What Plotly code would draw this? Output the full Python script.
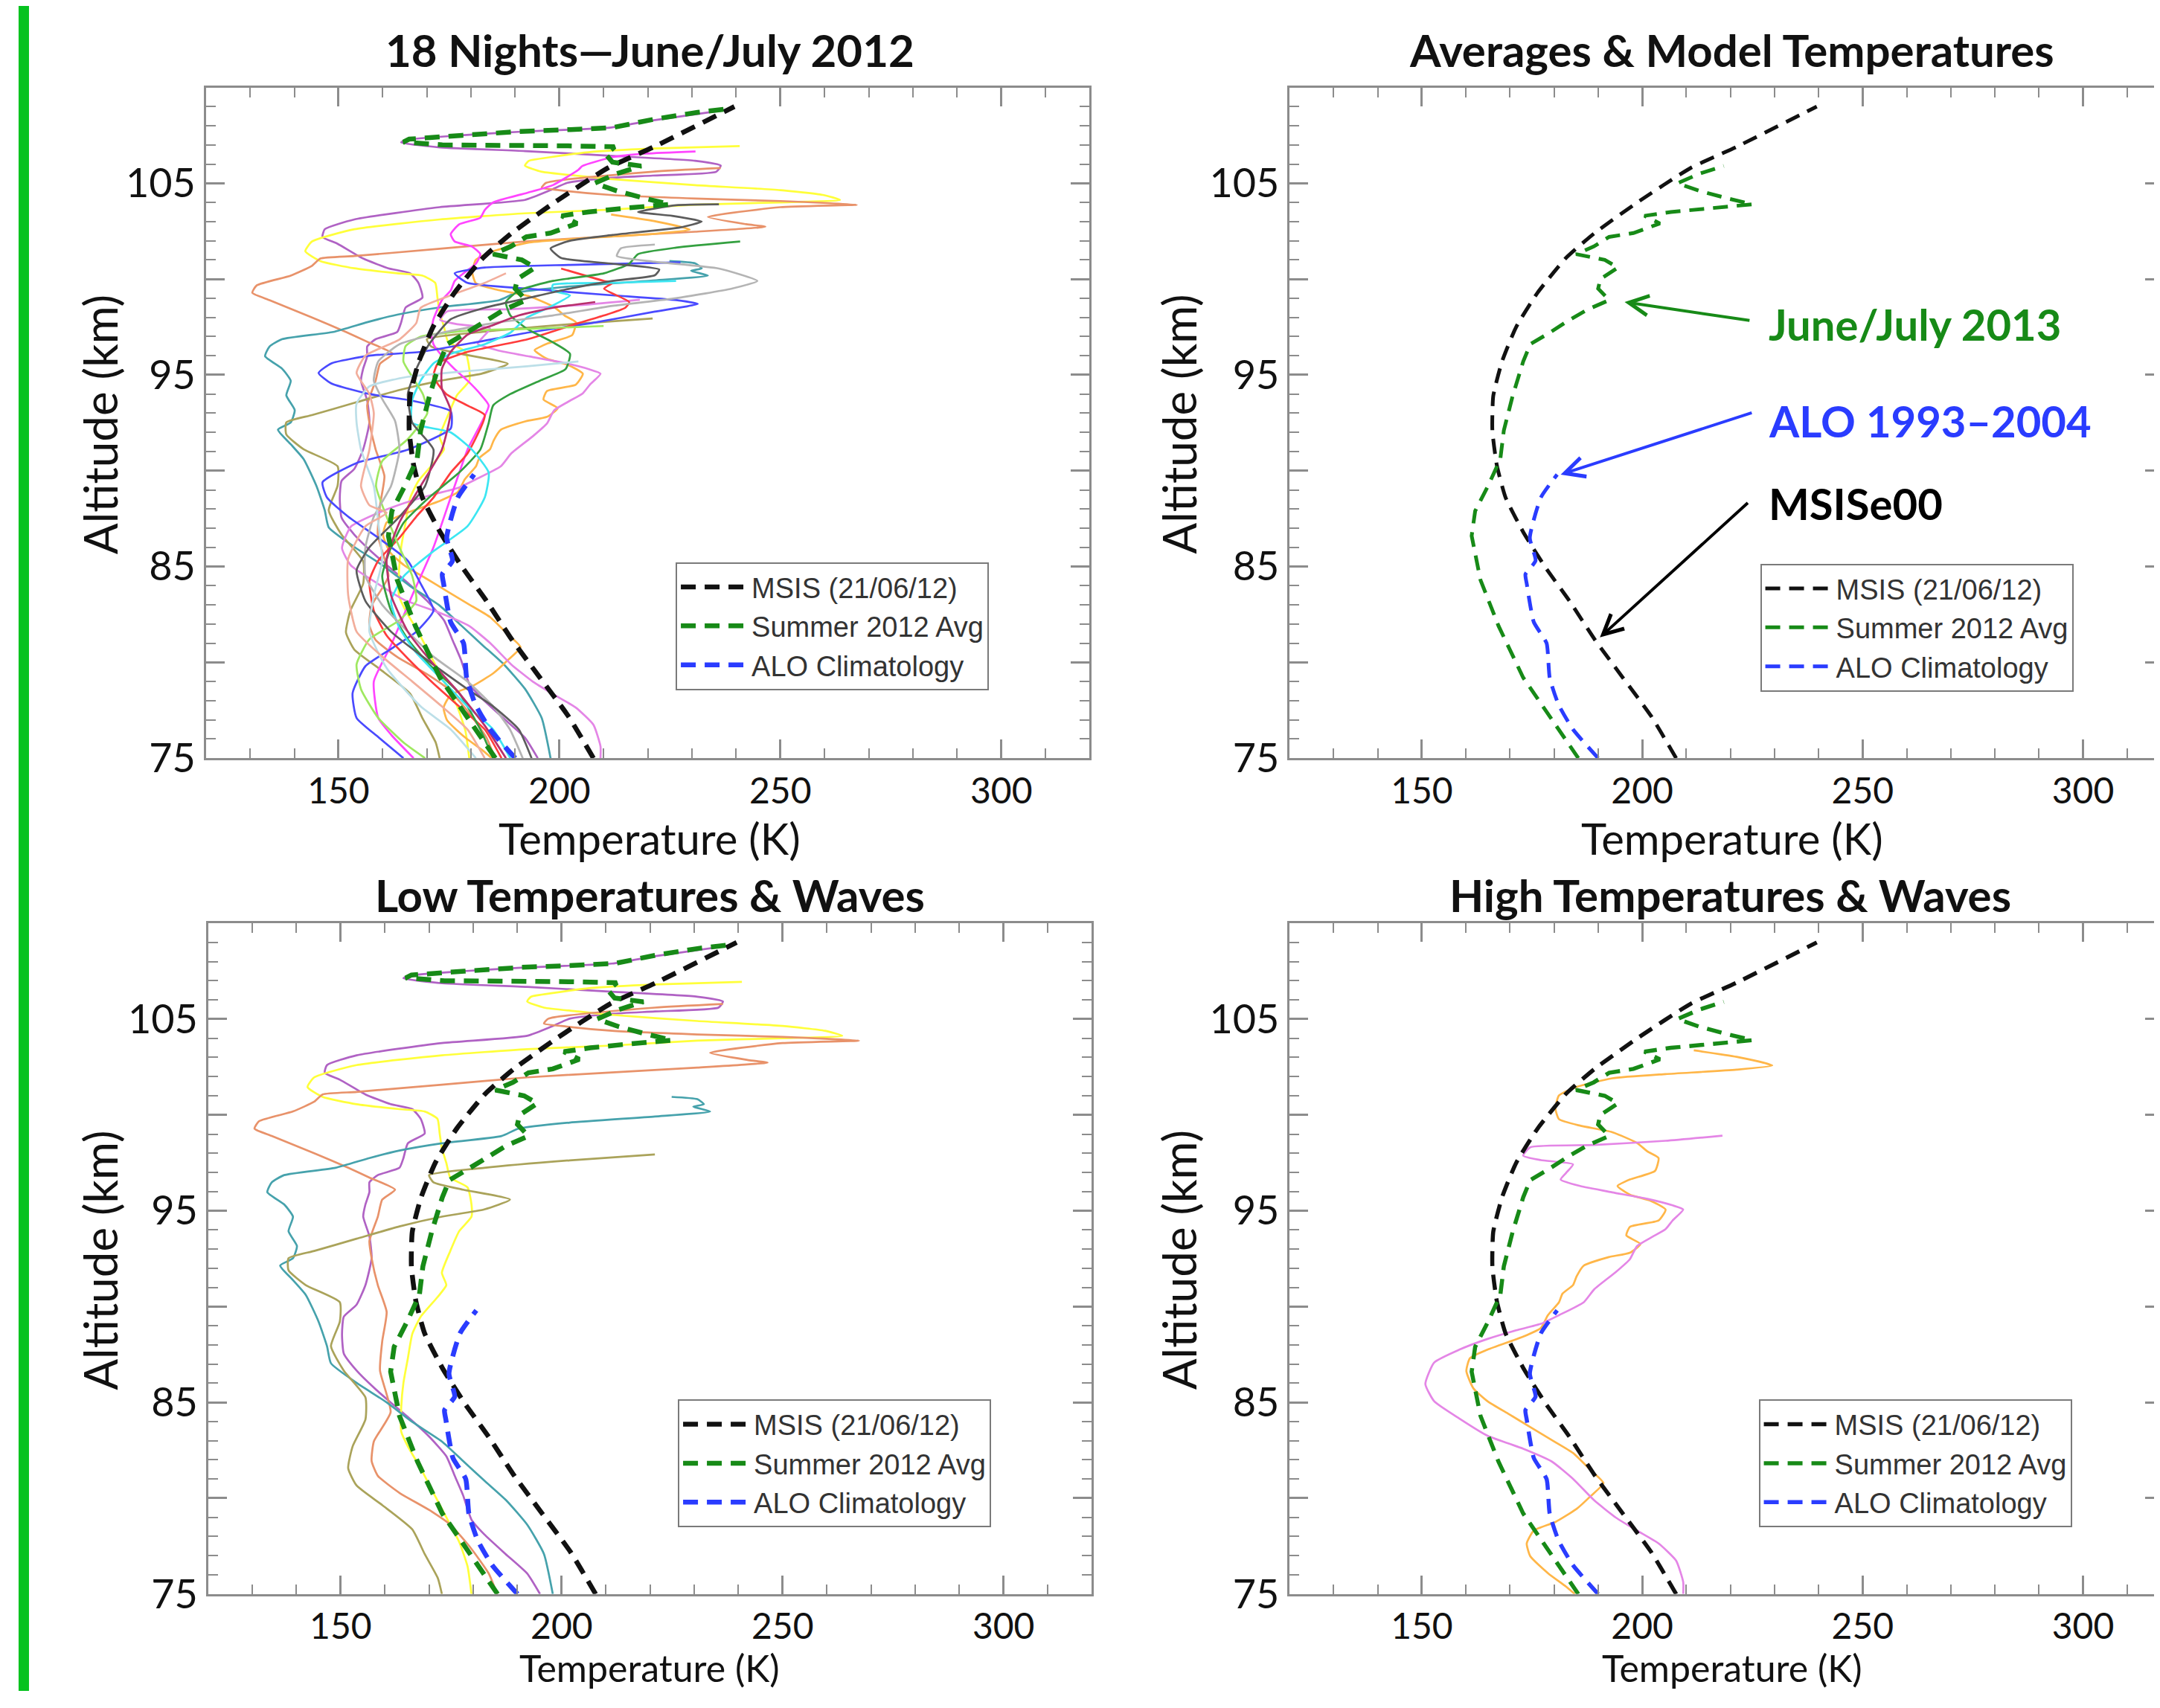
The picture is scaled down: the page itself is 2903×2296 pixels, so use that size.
import plotly.graph_objects as go

W, H = 2903, 2296

# ---------------- data: (Temperature K, Altitude km) along each profile ----------------
msis = [(207.7,75.0),(202.0,77.2),(195.6,79.2),(189.2,81.2),(183.5,83.2),(177.9,85.0),(173.0,86.8),
        (169.0,88.6),(167.0,90.3),(166.0,92.1),(166.2,93.9),(168.2,95.7),(171.4,97.5),(176.3,99.3),
        (182.7,101.1),(189.2,102.4),(198.9,104.0),(211.0,105.8),(221.4,106.9),(239.6,109.0)]

avg_lower = [(185.5,75.0),(179.5,77.0),(173.0,79.2),(167.4,81.9),(163.3,84.3),(161.3,86.6),(162.1,87.9),
             (165.0,89.2),(167.8,90.6),(168.6,92.1),(170.6,93.9),(173.0,95.7),(174.6,96.6),(179.0,97.2),
             (183.0,97.8),(187.5,98.4),(192.5,98.9),(190.0,99.5),(190.5,100.0),(194.5,100.6),(191.5,101.0),
             (185.0,101.3),(189.0,101.7),(192.5,102.2),(198.0,102.4),(204.0,102.9),(200.5,103.3),
             (206.5,103.5),(215.0,103.7),(225.0,103.9),(219.5,104.2),(213.0,104.6),(208.0,105.0),
             (213.0,105.5),(218.5,105.9)]
avg_upper = [(212.0,106.1),(210.5,106.5),(212.5,106.9),(202.0,106.95),(187.0,106.95),(173.5,107.0),
             (164.7,107.15),(166.0,107.3),(178.0,107.5),(191.0,107.7),(202.5,107.8),(212.0,107.9),
             (221.6,108.35),(231.3,108.7),(239.0,108.9)]

alo = [(190.0,75.0),(184.3,76.5),(181.0,77.8),(179.0,79.2),(178.3,81.0),(175.4,82.1),(173.8,84.1),
       (173.5,84.6),(175.8,85.3),(174.5,86.5),(177.0,88.6),(180.7,89.8)]

# nights shown in "Low Temperatures & Waves"
night_purple = [(238.4,108.85),(221.1,108.28),(211.4,107.9),(192.2,107.7),(177.7,107.5),(165.2,107.26),
    (164.2,107.13),(172.9,106.87),(192.2,106.68),(211.4,106.43),(230.7,106.17),(236.5,105.92),(235.5,105.6),
    (221.1,105.4),(211.4,105.28),(201.8,105.02),(198.0,104.64),(192.2,104.13),(172.9,103.75),(153.6,103.11),
    (146.9,102.6),(146.4,102.2),(149.8,101.84),(155.6,101.07),(161.3,100.56),(166.2,100.3),(168.1,99.8),
    (169.0,99.03),(165.2,98.52),(164.2,97.75),(163.3,97.24),(158.4,96.86),(156.5,96.48),(156.5,95.97),
    (155.6,95.33),(155.1,94.69),(156.5,93.67),(157.0,92.52),(155.6,91.12),(153.6,90.1),(150.7,89.47),
    (150.3,88.57),(150.7,87.55),(153.6,86.66),(157.5,85.77),(161.3,85.0),(165.2,84.24),(170.0,83.22),
    (173.9,82.19),(175.8,81.17),(177.7,80.15),(179.6,78.88),(182.5,78.11),(187.3,77.09),(192.2,76.07),(195.1,75.0)]
night_yellow = [(240.8,106.94),(221.1,106.81),(206.6,106.62),(198.0,106.36),(193.1,106.17),(192.2,105.92),
    (196.0,105.6),(203.7,105.4),(211.4,105.22),(230.7,104.9),(250.0,104.64),(259.6,104.39),(263.5,104.13),
    (250.0,104.0),(230.7,103.88),(211.4,103.62),(192.2,103.43),(172.9,103.11),(153.6,102.6),(144.0,101.96),
    (142.5,101.45),(145.9,100.94),(153.6,100.56),(163.3,100.3),(169.0,100.18),(171.9,99.8),(172.4,99.03),
    (172.9,98.26),(173.9,97.5),(174.8,96.73),(178.7,96.22),(179.6,95.33),(179.6,94.69),(176.8,93.93),
    (174.8,92.9),(172.9,91.76),(173.9,91.12),(171.9,90.49),(168.1,89.47),(166.2,88.57),(165.2,87.3),
    (164.2,86.02),(163.7,84.75),(163.7,83.47),(165.2,82.7),(168.1,81.56),(171.0,80.28),(173.9,79.0),
    (176.8,77.73),(178.7,76.45),(179.6,75.0)]
night_sienna = [(236.5,105.79),(221.1,105.6),(197.0,105.02),(196.0,104.77),(199.9,104.64),(211.4,104.39),
    (230.7,104.2),(250.0,104.07),(267.3,103.88),(250.0,103.75),(233.6,103.24),(242.3,102.86),(246.6,102.73),
    (230.7,102.47),(211.4,102.22),(192.2,101.96),(172.9,101.58),(153.6,101.2),(145.9,101.07),(144.0,100.69),
    (139.2,100.18),(131.5,99.67),(130.5,99.28),(134.4,98.9),(144.0,98.0),(151.7,97.24),(156.5,96.73),
    (162.3,96.1),(159.4,95.58),(158.4,94.69),(156.5,93.42),(157.0,92.52),(158.4,91.12),(160.4,89.72),
    (159.4,88.19),(158.9,86.66),(161.3,84.49),(157.5,82.96),(157.0,81.94),(158.4,81.17),(163.3,80.28),
    (170.0,79.39),(174.8,78.62),(179.6,77.35),(183.5,76.07),(185.4,75.0)]
night_teal = [(224.9,100.94),(230.7,100.82),(232.2,100.56),(229.8,100.43),(233.6,100.18),(221.1,99.92),
    (201.8,99.6),(190.2,99.28),(186.4,98.9),(172.9,98.52),(163.3,98.14),(156.5,97.75),(148.8,97.24),
    (137.2,96.86),(134.4,96.48),(133.4,95.97),(137.2,95.33),(139.2,94.69),(138.2,93.93),(140.1,93.16),
    (139.2,92.52),(136.3,92.14),(139.2,91.38),(142.1,90.61),(145.0,89.21),(146.9,87.93),(147.8,87.04),
    (153.6,86.02),(160.4,85.0),(166.2,83.98),(172.9,82.96),(177.7,81.94),(182.5,80.92),(187.4,79.9),
    (192.2,78.62),(196.0,77.09),(198.0,75.0)]
night_olive = [(221.1,97.94),(201.8,97.63),(182.5,97.24),(170.0,96.86),(171.0,96.48),(177.7,96.1),
    (188.3,95.58),(182.5,95.07),(172.9,94.69),(163.3,94.18),(153.6,93.54),(144.0,92.9),(138.2,92.52),
    (138.2,91.89),(142.1,91.12),(149.8,90.23),(149.8,89.21),(147.8,87.93),(150.7,86.66),(155.6,85.26),
    (155.6,84.11),(152.7,82.7),(151.7,81.56),(153.6,80.66),(159.4,79.64),(166.2,78.37),(169.0,77.09),
    (172.0,75.82),(172.9,75.0)]

# nights shown in "High Temperatures & Waves"
night_orange = [(211.7,103.37),(221.4,103.03),(229.5,102.58),(221.4,102.36),(205.3,102.13),(193.2,101.91),
    (185.1,101.46),(181.1,101.01),(180.3,100.34),(181.1,99.78),(185.9,99.44),(193.2,99.1),(198.8,98.54),
    (201.2,98.09),(203.7,97.75),(202.9,97.08),(197.2,96.63),(194.4,96.29),(197.2,95.84),(202.0,95.51),
    (205.3,95.06),(203.7,94.49),(197.2,94.16),(196.4,93.71),(199.6,93.26),(197.2,92.81),(192.4,92.58),
    (186.7,92.13),(185.1,91.57),(184.3,91.12),(181.9,90.67),(181.1,90.22),(178.6,89.55),(177.0,88.88),
    (173.0,88.43),(164.9,87.75),(160.9,87.3),(160.1,86.63),(161.7,85.73),(164.9,85.06),(169.8,84.38),
    (174.6,83.71),(179.5,83.03),(184.3,82.36),(188.3,81.46),(191.2,80.79),(188.3,80.11),(185.1,79.44),
    (180.3,78.76),(175.4,78.31),(173.8,77.64),(174.6,76.97),(178.7,76.07),(182.7,75.39),(184.7,75.0)]
night_orchid = [(218.2,98.92),(205.3,98.65),(189.1,98.43),(174.6,98.31),(173.0,97.87),(177.0,97.64),
    (184.3,97.42),(182.7,96.97),(181.5,96.63),(185.9,96.29),(193.2,95.96),(201.2,95.62),(206.9,95.28),
    (209.3,95.06),(206.9,94.49),(205.3,94.04),(202.0,93.6),(198.8,93.15),(197.2,92.47),(194.0,91.8),
    (189.1,90.9),(186.7,90.22),(181.1,89.55),(177.0,89.1),(171.4,88.76),(164.9,88.31),(158.5,87.75),
    (152.8,87.08),(150.8,85.96),(152.8,85.06),(158.5,84.16),(164.9,83.26),(173.0,82.58),(179.5,81.91),
    (184.3,81.01),(189.1,79.89),(194.0,78.99),(198.8,78.31),(203.7,77.64),(207.7,76.74),(209.3,75.62),(209.3,75.0)]

# remaining nights (only in the "18 Nights" panel)
night_magenta = [(230.8,106.66),(219.7,106.55),(212.0,106.36),(205.2,105.9),(204.3,105.7),(198.5,104.9),
    (192.7,104.5),(185.0,104.0),(183.1,103.6),(182.1,103.2),(177.3,102.85),(175.4,102.34),(176.3,101.96),
    (180.2,101.7),(182.1,101.3),(181.1,100.8),(178.3,100.3),(176.3,99.9),(175.4,99.4),(173.4,98.9),
    (171.5,97.9),(171.0,97.2),(171.5,96.6),(173.4,96.0),(176.3,95.3),(179.2,94.7),(182.1,94.0),(184.0,93.4),
    (179.2,91.1),(175.4,88.6),(171.5,86.0),(166.7,83.5),(161.9,80.9),(158.0,79.0),(159.0,77.1),(162.0,76.2),(167.0,75.0)]
night_blue = [(227.4,100.87),(202.4,100.74),(183.1,100.6),(176.3,100.3),(179.2,99.8),(192.7,99.5),
    (212.0,99.15),(226.4,98.9),(231.3,98.7),(221.6,98.3),(207.2,97.7),(192.7,97.2),(181.1,96.7),(168.6,96.2),
    (157.0,96.0),(148.4,95.6),(145.5,95.1),(148.4,94.55),(157.0,94.0),(166.7,93.65),(175.4,93.1),(175.4,92.2),
    (165.7,91.1),(154.1,90.4),(146.4,89.4),(147.4,88.6),(152.2,87.6),(159.0,86.5),(165.7,85.3),(168.6,84.1),
    (171.5,82.7),(167.6,81.6),(161.9,80.7),(156.1,79.8),(153.2,78.4),(154.1,77.1),(159.0,76.1),(164.7,75.0)]
night_red = [(200.4,100.55),(210.1,99.9),(212.0,99.8),(210.1,99.5),(215.8,98.8),(214.9,98.5),(210.1,98.1),
    (204.3,97.7),(192.7,96.85),(179.2,96.2),(172.5,95.6),(171.5,94.9),(174.4,94.0),(179.2,93.4),(183.1,92.9),
    (179.2,90.9),(175.4,89.9),(171.5,88.6),(167.6,87.6),(163.8,86.5),(159.0,85.3),(157.0,84.25),(158.0,82.7),
    (160.9,81.4),(165.7,80.2),(171.5,78.9),(177.3,77.7),(183.1,76.5),(186.9,75.0)]
night_green = [(240.9,101.96),(226.4,101.64),(217.8,101.3),(215.8,100.8),(210.1,100.3),(198.5,99.9),
    (190.8,99.4),(187.9,98.8),(188.9,98.1),(192.7,97.4),(198.5,96.7),(202.4,96.1),(201.4,95.3),(195.6,94.7),
    (188.9,94.0),(185.0,93.4),(184.0,92.5),(182.1,91.1),(177.3,89.9),(170.5,88.6),(164.8,87.3),(161.9,86.0),
    (159.9,84.5),(161.9,82.7),(165.7,81.2),(170.5,79.9),(177.3,78.4),(182.1,76.5),(185.0,75.0)]
night_cyan = [(226.4,99.9),(212.0,99.8),(198.5,99.7),(198.5,99.4),(202.4,99.15),(197.5,98.5),(192.7,98.0),
    (188.9,97.2),(183.1,96.6),(175.4,96.1),(171.5,95.6),(168.6,94.7),(166.7,93.7),(166.7,92.5),(175.4,92.0),
    (180.2,91.1),(184.0,89.9),(183.1,88.6),(179.2,87.1),(171.5,85.8),(164.8,84.5),(161.9,83.2),(163.8,81.8),
    (167.6,80.5),(173.4,79.1),(179.2,77.7),(185.0,76.5),(188.9,75.0)]
night_lightgreen = [(210.0,97.55),(192.7,97.4),(179.2,97.3),(168.6,97.0),(165.2,96.5),(164.7,95.7),
    (166.7,94.9),(169.1,94.0),(170.1,93.0),(165.7,91.65),(159.9,90.5),(158.5,89.2),(160.9,87.6),(163.8,86.0),
    (166.7,84.5),(167.6,83.2),(163.8,82.2),(157.0,81.2),(154.1,79.9),(155.1,78.6),(159.0,77.1),(164.8,75.8),(169.6,75.0)]
night_lightgray = [(221.6,101.8),(213.9,101.6),(213.0,101.2),(221.6,100.9),(236.1,100.55),(244.8,99.9),
    (239.0,99.5),(226.4,99.0),(212.0,98.6),(198.5,98.1),(185.0,97.7),(173.4,97.2),(163.8,96.6),(159.0,95.7),
    (158.0,94.7),(160.0,93.7),(162.8,92.6),(163.8,91.1),(161.9,89.2),(158.0,87.6),(156.1,86.0),(156.1,84.5),
    (159.9,83.0),(165.7,81.6),(171.5,80.3),(179.2,79.0),(185.0,77.7),(188.8,76.5),(191.7,75.0)]
night_darkgray = [(236.1,103.9),(226.4,103.85),(217.8,103.5),(225.5,103.3),(232.2,103.0),(227.4,102.7),
    (212.0,102.3),(202.4,102.0),(198.0,101.6),(200.4,101.1),(212.0,100.8),(222.6,100.5),(221.6,100.2),
    (212.0,99.9),(202.4,99.5),(192.7,99.0),(183.1,98.5),(175.4,97.9),(170.5,96.6),(167.6,95.3),(165.7,94.0),
    (166.7,92.5),(171.5,91.1),(169.6,89.2),(163.8,87.6),(157.0,86.0),(154.1,84.8),(156.1,83.2),(161.9,81.6),
    (169.6,80.2),(179.2,78.6),(185.0,77.7),(190.8,76.5),(193.7,75.0)]
night_lightblue = [(204.3,95.7),(192.7,95.45),(179.2,95.2),(165.7,94.9),(157.0,94.4),(154.1,93.5),
    (154.1,92.5),(155.1,91.1),(158.0,89.2),(159.0,87.3),(159.9,85.3),(158.0,83.5),(157.0,81.6),(160.9,79.7),
    (168.6,77.7),(175.4,76.5),(181.1,75.0)]
night_salmon = [(187.9,100.3),(183.1,99.8),(175.4,99.15),(168.6,98.5),(167.6,97.7),(163.8,96.85),
    (156.1,96.0),(154.1,95.1),(157.0,94.0),(158.0,93.0),(157.0,91.1),(155.1,89.2),(157.0,88.2),(160.9,87.8),
    (156.1,87.1),(152.2,85.4),(152.2,83.5),(154.1,81.6),(159.9,80.3),(166.7,79.0),(173.4,77.7),(179.2,76.5),(183.1,75.0)]
night_maroon = [(208.1,98.8),(198.5,98.5),(190.8,98.1),(185.0,97.6),(179.2,97.1),(175.4,96.2),(173.4,95.3),
    (173.4,94.3),(175.4,93.15),(173.4,91.1),(168.6,89.2),(163.8,87.3),(160.9,85.4),(161.9,83.5),(165.7,81.6),
    (171.5,79.9),(177.3,78.4),(183.1,76.7),(187.9,75.0)]

low_nights = [(night_purple, "#b062c4"), (night_yellow, "#ffff3a"), (night_sienna, "#e8926a"),
              (night_teal, "#46a2ac"), (night_olive, "#aaa35a")]
high_nights = [(night_orange, "#ffb648"), (night_orchid, "#e486e6")]
other_nights = [(night_magenta, "#ff45ff"), (night_blue, "#4a4aff"), (night_red, "#ff3c3c"),
                (night_green, "#34a040"), (night_cyan, "#3ce6f2"), (night_lightgreen, "#9fe860"),
                (night_lightgray, "#b4b4b4"), (night_darkgray, "#5c5c5c"), (night_lightblue, "#bcdfe8"),
                (night_salmon, "#f2ae9c"), (night_maroon, "#b8306c")]

titles = ["18 Nights\u2014June/July 2012", "Averages & Model Temperatures",
          "Low Temperatures & Waves", "High Temperatures & Waves"]
legend_names = ["MSIS (21/06/12)", "Summer 2012 Avg", "ALO Climatology"]
x_ticks = [150, 200, 250, 300]
y_ticks = [75, 80, 85, 90, 95, 100, 105]
y_ticktext = ["75", "", "85", "", "95", "", "105"]

BLACK_D, GREEN_D, BLUE_D = "#111111", "#178a17", "#2a3cff"

# ---------------- figure ----------------
fig = go.Figure()


def unzip(pairs):
    return [p[0] for p in pairs], [p[1] for p in pairs]


def add_line(pairs, color, xa, ya, width=2.7, dash=None, name=None, legend=None,
             showlegend=False, spline=True):
    T, A = unzip(pairs)
    line = dict(color=color, width=width)
    if dash:
        line["dash"] = dash
    if spline:
        line["shape"] = "spline"
        line["smoothing"] = 0.5
    fig.add_trace(go.Scatter(x=T, y=A, mode="lines", xaxis=xa, yaxis=ya, line=line,
                             name=name, legend=legend, showlegend=showlegend,
                             hoverinfo="skip"))


DASH = "20px,12px"
panels = [
    ("x", "y", "legend", low_nights + high_nights + other_nights, avg_lower + avg_upper, 6.5),
    ("x2", "y2", "legend2", [], avg_lower, 5),
    ("x3", "y3", "legend3", low_nights, avg_lower + avg_upper, 6.5),
    ("x4", "y4", "legend4", high_nights, avg_lower, 5.5),
]
for xa, ya, lg, nights, avg, dw in panels:
    for pairs, col in nights:
        add_line(pairs, col, xa, ya)
    add_line(msis, BLACK_D, xa, ya, width=dw, dash=DASH, name=legend_names[0], legend=lg,
             showlegend=True)
    add_line(avg, GREEN_D, xa, ya, width=dw, dash=DASH, name=legend_names[1], legend=lg,
             showlegend=True, spline=False)
    add_line(alo, BLUE_D, xa, ya, width=dw, dash=DASH, name=legend_names[2], legend=lg,
             showlegend=True)

AX = "#8c8c8c"


def xaxis(domain, anchor, rng):
    return dict(domain=domain, anchor=anchor, range=rng, showline=True, linecolor=AX,
                linewidth=3, mirror="ticks", ticks="inside", ticklen=25, tickwidth=2.5,
                tickcolor=AX, tickmode="array", tickvals=x_ticks, showgrid=False,
                zeroline=False, tickfont=dict(family="Lato", size=48, color="#111111"),
                fixedrange=True,
                minor=dict(ticks="inside", ticklen=13, tickwidth=2, tickcolor=AX,
                           dtick=10, tick0=0, showgrid=False))


def yaxis(domain, anchor):
    return dict(domain=domain, anchor=anchor, range=[75, 110], showline=True, linecolor=AX,
                linewidth=3, mirror="ticks", ticks="inside", ticklen=25, tickwidth=2.5,
                tickcolor=AX, tickmode="array", tickvals=y_ticks, ticktext=y_ticktext,
                showgrid=False, zeroline=False,
                tickfont=dict(family="Lato", size=54, color="#111111"), fixedrange=True,
                minor=dict(ticks="inside", ticklen=13, tickwidth=2, tickcolor=AX,
                           dtick=1, tick0=75, showgrid=False))


top_dom = [1 - 1025 / H, 1 - 111 / H]
bot_dom = [1 - 2164 / H, 1 - 1250 / H]
right_max = 120 + (W - 1727) / 5.93

legend_common = dict(xanchor="left", yanchor="top", bgcolor="white", bordercolor="#7a7a7a",
                     borderwidth=2, font=dict(family="Liberation Sans", size=38, color="#333333"),
                     itemwidth=90, tracegroupgap=0)

fig.update_layout(
    width=W, height=H, autosize=False,
    margin=dict(l=0, r=0, t=0, b=0),
    paper_bgcolor="white", plot_bgcolor="white",
    font=dict(family="Lato", color="#111111"),
    xaxis=xaxis([269 / W, 1458 / W], "y", [120, 320]),
    yaxis=yaxis(top_dom, "x"),
    xaxis2=xaxis([1727 / W, 1.0], "y2", [120, right_max]),
    yaxis2=yaxis(top_dom, "x2"),
    xaxis3=xaxis([272 / W, 1461 / W], "y3", [120, 320]),
    yaxis3=yaxis(bot_dom, "x3"),
    xaxis4=xaxis([1727 / W, 1.0], "y4", [120, right_max]),
    yaxis4=yaxis(bot_dom, "x4"),
    legend=dict(x=901 / W, y=1 - 758 / H, **legend_common),
    legend2=dict(x=2360 / W, y=1 - 760 / H, **legend_common),
    legend3=dict(x=904 / W, y=1 - 1899 / H, **legend_common),
    legend4=dict(x=2358 / W, y=1 - 1899 / H, **legend_common),
    showlegend=True,
)

# green bar at the left edge
fig.add_shape(type="rect", xref="paper", yref="paper", x0=17 / W, x1=31 / W, y0=0, y1=1,
              fillcolor="#06c21f", line=dict(width=0), layer="above")

# subplot titles
for txt, (cx, cy) in zip(titles, [(866, 60), (2322, 60), (866, 1211), (2320, 1211)]):
    fig.add_annotation(text=txt, x=cx / W, y=1 - cy / H, xref="paper", yref="paper",
                       showarrow=False, xanchor="center", yanchor="middle",
                       font=dict(family="Lato", size=60, color="#111111", weight="bold"))

# axis titles
for cx in (866, 2322):
    fig.add_annotation(text="Temperature (K)", x=cx / W, y=1 - 1134 / H, xref="paper",
                       yref="paper", showarrow=False, xanchor="center", yanchor="middle",
                       font=dict(family="Lato", size=58, color="#111111"))
    fig.add_annotation(text="Temperature (K)", x=cx / W, y=0, xref="paper", borderpad=0,
                       yref="paper", showarrow=False, xanchor="center", yanchor="bottom",
                       font=dict(family="Lato", size=50, color="#111111"))
for cx, cy in [(126, 570), (1578, 570), (126, 1709), (1578, 1709)]:
    fig.add_annotation(text="Altitude (km)", x=cx / W, y=1 - cy / H, xref="paper",
                       yref="paper", showarrow=False, xanchor="center", yanchor="middle",
                       textangle=-90, font=dict(family="Lato", size=62, color="#111111"))

# labelled arrows in the "Averages" panel
arrow_specs = [
    ("June/July 2013", GREEN_D, (196.0, 98.8), (224.6, 97.83), 433),
    ("ALO 1993\u20132004", BLUE_D, (181.5, 89.8), (225.1, 93.04), 565),
    ("MSISe00", "#000000", (190.4, 81.3), (224.2, 88.37), 678),
]
for txt, col, head, tail, ty in arrow_specs:
    fig.add_annotation(x=head[0], y=head[1], ax=tail[0], ay=tail[1], xref="x2", yref="y2",
                       axref="x2", ayref="y2", text="", showarrow=True, arrowhead=5,
                       arrowsize=1.3, arrowwidth=4, arrowcolor=col)
    fig.add_annotation(text=txt, x=2369 / W, y=1 - ty / H, xref="paper", yref="paper",
                       showarrow=False, xanchor="left", yanchor="middle",
                       font=dict(family="Lato", size=58, color=col, weight="bold"))

fig.write_html("out.html")
